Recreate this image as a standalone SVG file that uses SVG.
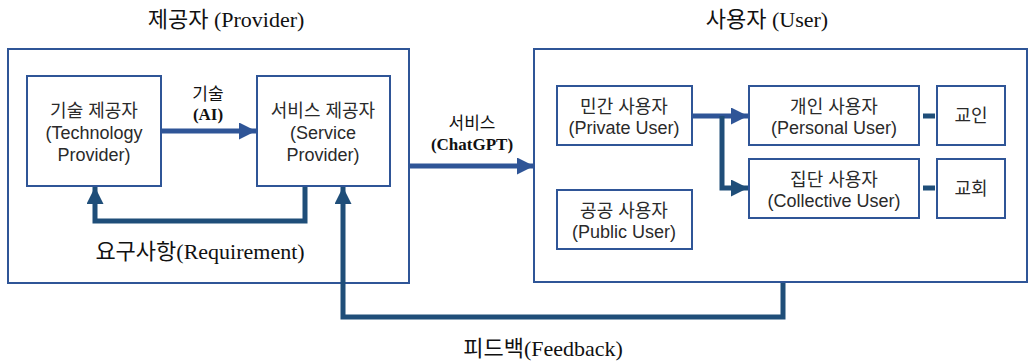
<svg xmlns="http://www.w3.org/2000/svg" width="1030" height="361" viewBox="0 0 1030 361">
<style>
.frame{fill:none;stroke:#2f5597;stroke-width:2}
.box{fill:#fff;stroke:#2f5597;stroke-width:2}
.t{font-family:"Liberation Sans","Noto Sans CJK KR",sans-serif;font-size:18px;fill:#2a2a2a;text-anchor:middle}
.s{font-family:"Liberation Serif","Noto Sans CJK KR",serif;font-size:22px;fill:#111;text-anchor:middle}
.lb{font-family:"Liberation Serif","Noto Sans CJK KR",serif;font-size:17px;fill:#111;text-anchor:middle}
.a1{fill:none;stroke:#2f5597;stroke-width:5}
.a2{fill:none;stroke:#1f4e79;stroke-width:5}
</style>
<defs>
<marker id="m1" viewBox="0 0 10 10" refX="10" refY="5" markerWidth="3.4" markerHeight="3.4" orient="auto" markerUnits="strokeWidth"><path d="M0,0 L10,5 L0,10 z" fill="#2f5597"/></marker>
<marker id="m2" viewBox="0 0 10 10" refX="10" refY="5" markerWidth="3.4" markerHeight="3.4" orient="auto" markerUnits="strokeWidth"><path d="M0,0 L10,5 L0,10 z" fill="#1f4e79"/></marker>
</defs>

<g id="provider">
<rect class="frame" x="8" y="49" width="401" height="234"/>
<text class="s" x="226" y="27">제공자 (Provider)</text>
</g>
<g id="user">
<rect class="frame" x="534" y="49" width="493" height="233"/>
<text class="s" x="767" y="27">사용자 (User)</text>
</g>

<g id="connectors">
<path class="a1" d="M161,131 L256,131" marker-end="url(#m1)"/>
<path class="a2" d="M305,186 L305,221 L95,221 L95,187" marker-end="url(#m2)"/>
<path class="a1" d="M410,166 L534,166" marker-end="url(#m1)"/>
<path class="a2" d="M783,283 L783,317 L343,317 L343,187" marker-end="url(#m2)"/>
<path class="a1" d="M692,116 L748,116" marker-end="url(#m1)"/>
<path class="a2" d="M722,116 L722,188 L748,188" marker-end="url(#m2)"/>
<path class="a2" d="M923,116 L935,116"/>
<path class="a2" d="M923,188 L935,188"/>
<text class="lb" x="208" y="100">기술</text>
<text class="lb" x="208" y="120" font-weight="bold">(AI)</text>
<text class="lb" x="472" y="129">서비스</text>
<text class="lb" x="472" y="150" font-weight="bold">(ChatGPT)</text>
<text class="s" x="200" y="259">요구사항(Requirement)</text>
<text class="s" x="543" y="356">피드백(Feedback)</text>
</g>

<g id="tech-provider">
<rect class="box" x="27" y="76" width="134" height="110"/>
<text class="t" x="94" y="117">기술 제공자</text>
<text class="t" x="94" y="139">(Technology</text>
<text class="t" x="94" y="161">Provider)</text>
</g>
<g id="service-provider">
<rect class="box" x="257" y="76" width="133" height="110"/>
<text class="t" x="323" y="117">서비스 제공자</text>
<text class="t" x="323" y="139">(Service</text>
<text class="t" x="323" y="161">Provider)</text>
</g>

<g id="private-user">
<rect class="box" x="557" y="86" width="135" height="59"/>
<text class="t" x="624" y="113">민간 사용자</text>
<text class="t" x="624" y="134">(Private User)</text>
</g>
<g id="public-user">
<rect class="box" x="557" y="190" width="135" height="59"/>
<text class="t" x="624" y="217">공공 사용자</text>
<text class="t" x="624" y="238">(Public User)</text>
</g>
<g id="personal-user">
<rect class="box" x="749" y="86" width="170" height="59"/>
<text class="t" x="834" y="113">개인 사용자</text>
<text class="t" x="834" y="134">(Personal User)</text>
</g>
<g id="collective-user">
<rect class="box" x="749" y="159" width="170" height="59"/>
<text class="t" x="834" y="186">집단 사용자</text>
<text class="t" x="834" y="207">(Collective User)</text>
</g>
<g id="believer">
<rect class="box" x="937" y="86" width="68" height="59"/>
<text class="t" x="971" y="122">교인</text>
</g>
<g id="church">
<rect class="box" x="937" y="159" width="68" height="59"/>
<text class="t" x="971" y="195">교회</text>
</g>
</svg>
